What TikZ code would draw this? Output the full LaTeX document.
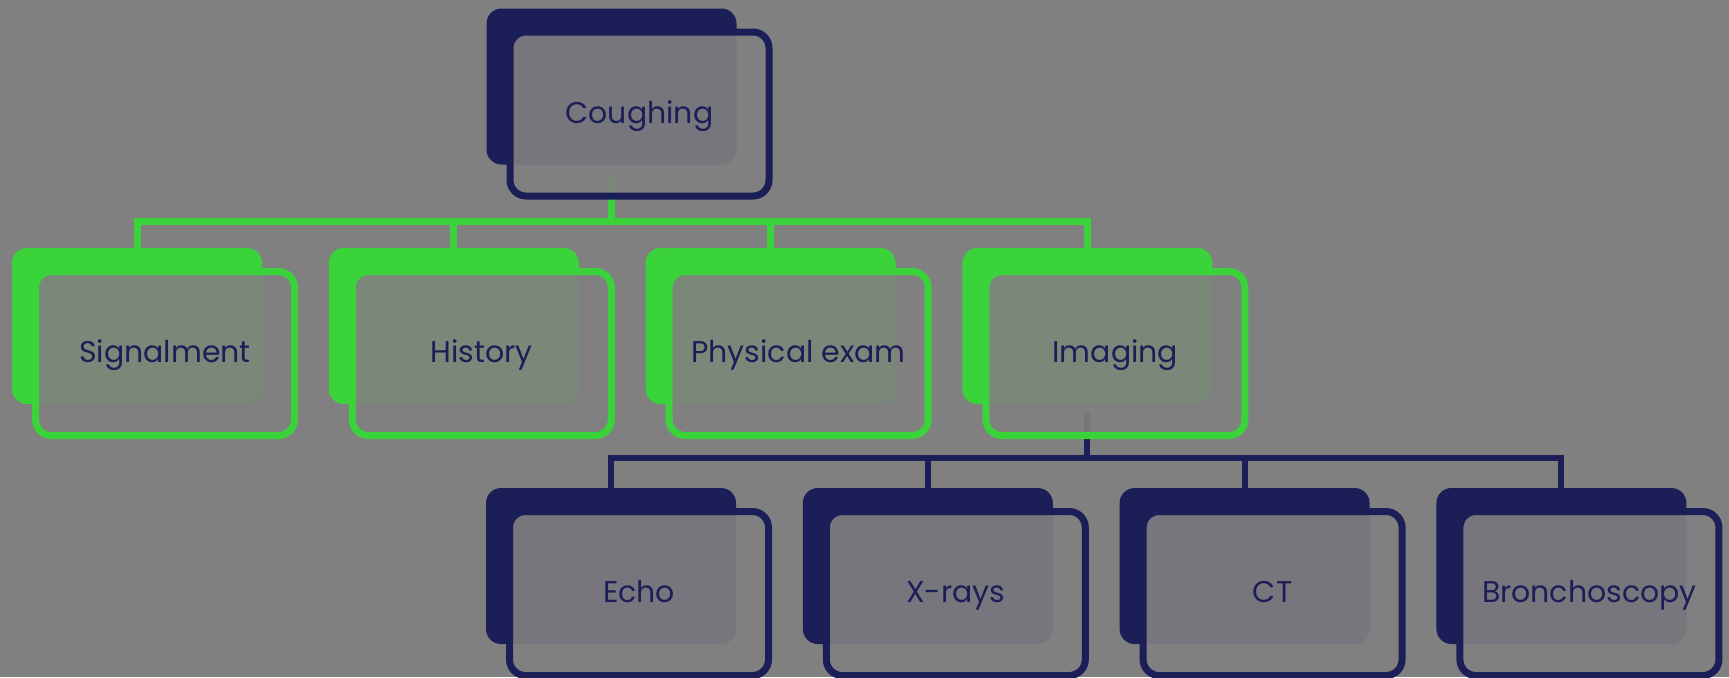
\documentclass[tikz,border=0pt]{standalone}
\usepackage{fontspec}
\setmainfont{Poppins}
\usetikzlibrary{positioning}
\definecolor{navy}{RGB}{28,30,88}
\definecolor{leaf}{RGB}{58,212,58}
\definecolor{bg}{RGB}{128,128,128}

\begin{document}
\begin{tikzpicture}[x=0.5pt,y=0.5pt,node distance=33pt,every node/.style={font=\fontsize{15}{18}\selectfont}]
\tikzstyle{back}=[rounded corners=7.5pt,minimum width=125pt,minimum height=78pt,inner sep=0pt]
\tikzstyle{front}=[draw,line width=3.5pt,rounded corners=8pt,fill=bg,fill opacity=0.9,text opacity=1,text=navy,minimum width=129.5pt,minimum height=82pt,inner sep=0pt,text height=1.05em,text depth=0.12em,xshift=14pt,yshift=-13.75pt]
\fill[bg] (0,0) rectangle (1729,-677);
\useasboundingbox (0,0) rectangle (1729,-677);
% back plates
\node[back,fill=navy] (cough) at (611.5,-86.5) {};
\node[back,fill=leaf] (sig) at (137,-326) {};
\node[back,fill=leaf,right=of sig] (hist) {};
\node[back,fill=leaf,right=of hist] (phys) {};
\node[back,fill=leaf,right=of phys] (img) {};
\node[back,fill=navy] (echo) at (611,-566) {};
\node[back,fill=navy,right=of echo] (xray) {};
\node[back,fill=navy,right=of xray] (ct) {};
\node[back,fill=navy,right=of ct] (bron) {};
% connectors
\foreach \b in {sig,hist,phys,img}
  \draw[leaf,line width=3.5pt,shorten <=4.5pt] (cough.south) -- ++(0,-57) -| (\b.north);
\foreach \b in {echo,xray,ct,bron}
  \draw[navy,line width=3pt,shorten <=4.5pt] (img.south) -- ++(0,-54) -| (\b.north);
% front boxes
\foreach \b/\t/\c in {cough/Coughing/navy,sig/Signalment/leaf,hist/History/leaf,phys/Physical exam/leaf,img/Imaging/leaf,echo/Echo/navy,xray/X-rays/navy,ct/CT/navy,bron/Bronchoscopy/navy}
  \node[front,draw=\c] (\b-f) at (\b) {\t};
\end{tikzpicture}
\end{document}
